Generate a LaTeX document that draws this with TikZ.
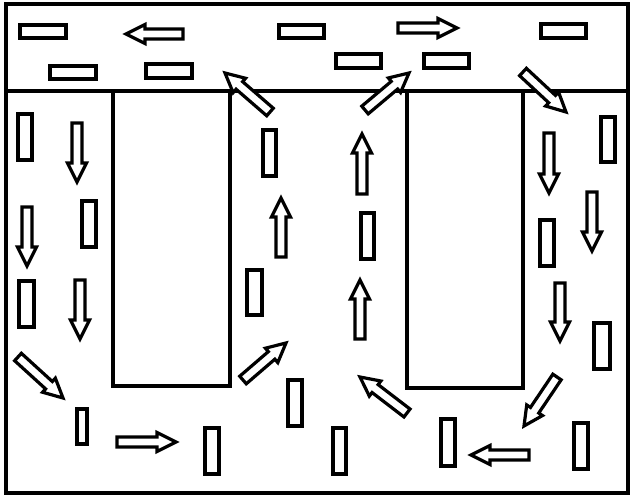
\documentclass[tikz,border=0pt]{standalone}
\usetikzlibrary{calc}
\tikzset{
  ln/.style={line width=3.2pt, line join=miter, black},
  particle/.style={ln, fill=white},
  barrowshape/.style={ln, fill=white, line join=miter},
}
% block arrow: #1 tail coordinate name, #2 head coordinate name
\newcommand\blockarrow[2]{%
  \coordinate (#1b) at ($(#2)!19pt!(#1)$);
  \draw[barrowshape] ($(#1)!5pt!90:(#2)$) -- ($(#1b)!5pt!-90:(#1)$) -- ($(#1b)!9.5pt!-90:(#1)$) -- (#2)
     -- ($(#1b)!9.5pt!90:(#1)$) -- ($(#1b)!5pt!90:(#1)$) -- ($(#1)!5pt!-90:(#2)$) -- cycle;
}
\begin{document}
\begin{tikzpicture}[x=1pt,y=-1pt]
\useasboundingbox (0,0) rectangle (630,498);
% frame
\draw[ln] (6,4) rectangle (628,493);
\draw[ln] (6,91) -- (628,91);
% channels (U shapes)
\draw[ln] (113,91) -- (113,386) -- (230,386) -- (230,91);
\draw[ln] (407,91) -- (407,388) -- (523,388) -- (523,91);
% particles
\foreach \xa/\ya/\xb/\yb [count=\i] in {
  19/24/67/39, 278/24/325/39, 49/65/97/80, 145/63/193/79, 540/23/587/39,
  335/53/382/69, 423/53/470/69, 600/116/616/163, 17/113/33/161, 81/200/97/248,
  18/280/35/328, 262/129/277/177, 246/269/263/316, 76/408/88/445, 204/427/220/475,
  287/379/303/427, 360/212/375/260, 539/219/555/267, 593/322/611/370, 332/427/347/475,
  440/418/456/467, 573/422/589/470}
  \draw[particle] (\xa+1,\ya+1) rectangle (\xb-1,\yb-1);
% arrows
\foreach \tx/\ty/\hx/\hy [count=\i] in {
  183/34/126/34, 270/112/225/73, 398/28/457/28, 365/110/409/73, 523/72/566/112,
  77/123/77/182, 27/207/27/266, 80/280/80/339, 281/257/281/198, 18/357/63/398,
  117/442/176/442, 243/380/286/343, 362/194/362/134, 360/339/360/280, 549/133/549/193,
  592/192/592/251, 560/283/560/341, 407/413/360/377, 557/377/524/426, 529/455/471/455}
{
  \coordinate (t\i) at (\tx,\ty);
  \coordinate (h\i) at (\hx,\hy);
  \blockarrow{t\i}{h\i}
}
\end{tikzpicture}
\end{document}
